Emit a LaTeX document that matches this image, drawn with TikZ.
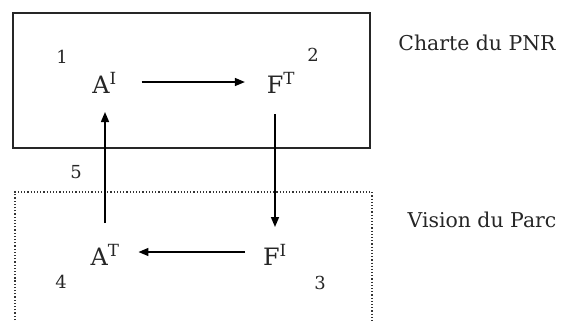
\documentclass[tikz,border=0pt]{standalone}
\usepackage{fontspec}
\setmainfont{DejaVu Serif}
\usetikzlibrary{arrows.meta}
\begin{document}
\begin{tikzpicture}[x=1bp,y=-1bp,
  sym/.style={anchor=base,inner sep=0pt,outer sep=0pt,text height=17bp,text depth=0pt,text=black!85,font=\fontsize{24}{24}\selectfont},
  num/.style={inner sep=0pt,text=black!85,font=\fontsize{18}{18}\selectfont},
  lab/.style={inner sep=0pt,text=black!85,font=\fontsize{20.5}{20.5}\selectfont},
  conn/.style={line width=1.5bp,-{Triangle[length=10bp,width=8bp]}},
  box/.style={line width=1.8bp,draw=black!85},
  dotbox/.style={line width=1.2bp,dotted,draw=black!80}]
\useasboundingbox (0,0) rectangle (563,320);
\draw[box] (13,13) rectangle (370,148);
\draw[dotbox] (15,320) -- (15,192) -- (372,192) -- (372,320);
\node[sym] (AI) at (104.5,93) {A\textsuperscript{I}};
\node[sym] (FT) at (281,93) {F\textsuperscript{T}};
\node[sym] (FI) at (275,265) {F\textsuperscript{I}};
\node[sym] (AT) at (105,265) {A\textsuperscript{T}};
\node[num] (n1) at (62,57) {1};
\node[num] (n2) at (313,55) {2};
\node[num] (n5) at (76,172) {5};
\node[num] (n4) at (61,282) {4};
\node[num] (n3) at (320,283) {3};
\node[lab] (charte) at (477,43) {Charte du PNR};
\node[lab] (vision) at (482,220) {Vision du Parc};
\draw[conn,shorten <=25bp,shorten >=22bp] ([yshift=2.5bp]AI.east) -- ([yshift=2.5bp]FT.west);
\draw[conn,shorten <=21bp,shorten >=21bp] (FT.south -| FI.north) -- (FI.north);
\draw[conn,shorten <=18bp,shorten >=19bp] ([yshift=4.5bp]FI.west) -- ([yshift=4.5bp]AT.east);
\draw[conn,shorten <=25bp,shorten >=19bp] (AT.north) -- (AI.south -| AT.north);
\end{tikzpicture}
\end{document}
